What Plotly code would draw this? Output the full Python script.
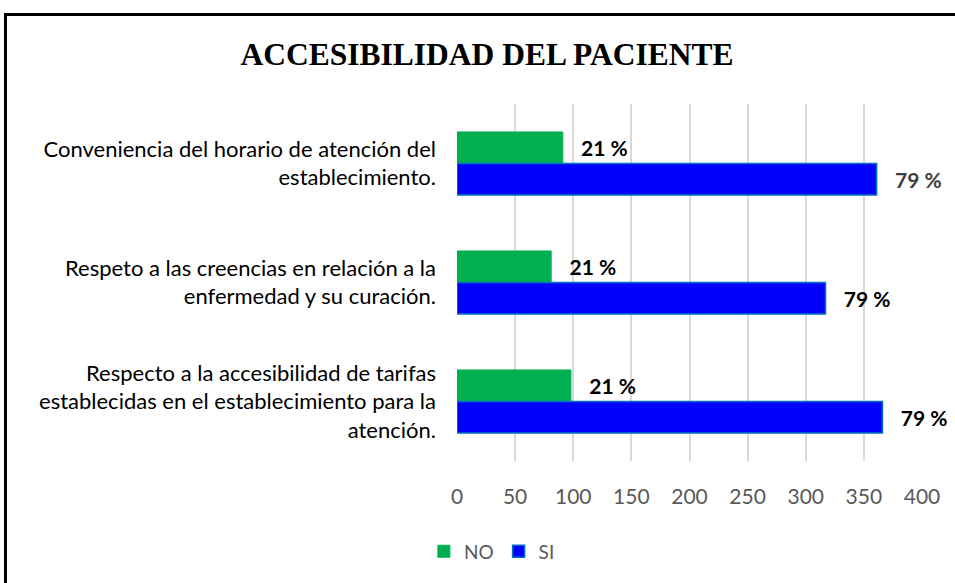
import plotly.graph_objects as go

categories = [
    "Conveniencia del horario de atención del<br>establecimiento.",
    "Respeto a las creencias en relación a la<br>enfermedad y su curación.",
    "Respecto a la accesibilidad de tarifas<br>establecidas en el establecimiento para la<br>atención.",
]
no_values = [91, 81, 98]
si_values = [361, 317, 366]
no_labels = ["21 %", "21 %", "21 %"]
si_labels = ["79 %", "79 %", "79 %"]
x_ticks = [0, 50, 100, 150, 200, 250, 300, 350, 400]

pad = "\u00a0\u00a0\u00a0"
font_main = "Lato, 'Open Sans', sans-serif"

fig = go.Figure()
fig.add_trace(go.Bar(
    name="NO", y=categories, x=no_values, orientation="h",
    marker=dict(color="#00B050", line=dict(color="#00B050", width=1)),
    text=[pad + t for t in no_labels], textposition="outside",
    textfont=dict(family=font_main, size=21, color="#000000", weight="bold"),
    cliponaxis=False,
))
fig.add_trace(go.Bar(
    name="SI", y=categories, x=si_values, orientation="h",
    marker=dict(color="#0000FF", line=dict(color="#0070C0", width=1.5)),
    text=[pad + t for t in si_labels], textposition="outside",
    textfont=dict(family=font_main, size=21, color=["#404040", "#000000", "#000000"], weight="bold"),
    cliponaxis=False,
))

fig.update_layout(
    width=955, height=583,
    paper_bgcolor="white", plot_bgcolor="white",
    margin=dict(l=457, r=33, t=104, b=116),
    barmode="group", bargap=0.47, bargroupgap=0,
    title=dict(text="<b>ACCESIBILIDAD DEL PACIENTE</b>", x=0.51, xanchor="center",
               y=1 - 54 / 583, yanchor="middle",
               font=dict(family="'Liberation Serif', 'Times New Roman', serif", size=31.5, color="#000000")),
    legend=dict(orientation="h", x=0.075, xanchor="center", y=-0.2, yanchor="top",
                font=dict(family=font_main, size=19, color="#595959"),
                itemwidth=30, traceorder="normal"),
    xaxis=dict(range=[0, 400], tickvals=x_ticks, showgrid=True, gridcolor="#D9D9D9", gridwidth=1.5,
               zeroline=False, showline=False,
               tickfont=dict(family=font_main, size=21, color="#595959"), ticklen=0,
               ticklabelstandoff=21),
    yaxis=dict(autorange="reversed", showgrid=False, showline=False, ticks="",
               tickfont=dict(family=font_main, size=22, color="#000000"), ticklabelstandoff=20),
    font=dict(family=font_main),
    shapes=[dict(type="rect", xref="paper", yref="paper", x0=-0.971, x1=1.1, y0=-0.4, y1=1.2507,
                 line=dict(color="#000000", width=3), fillcolor="rgba(0,0,0,0)", layer="above")],
)

fig.write_html("out.html", config={"displayModeBar": False},
               post_script="document.body.style.margin='0px';document.body.style.padding='0px';")
